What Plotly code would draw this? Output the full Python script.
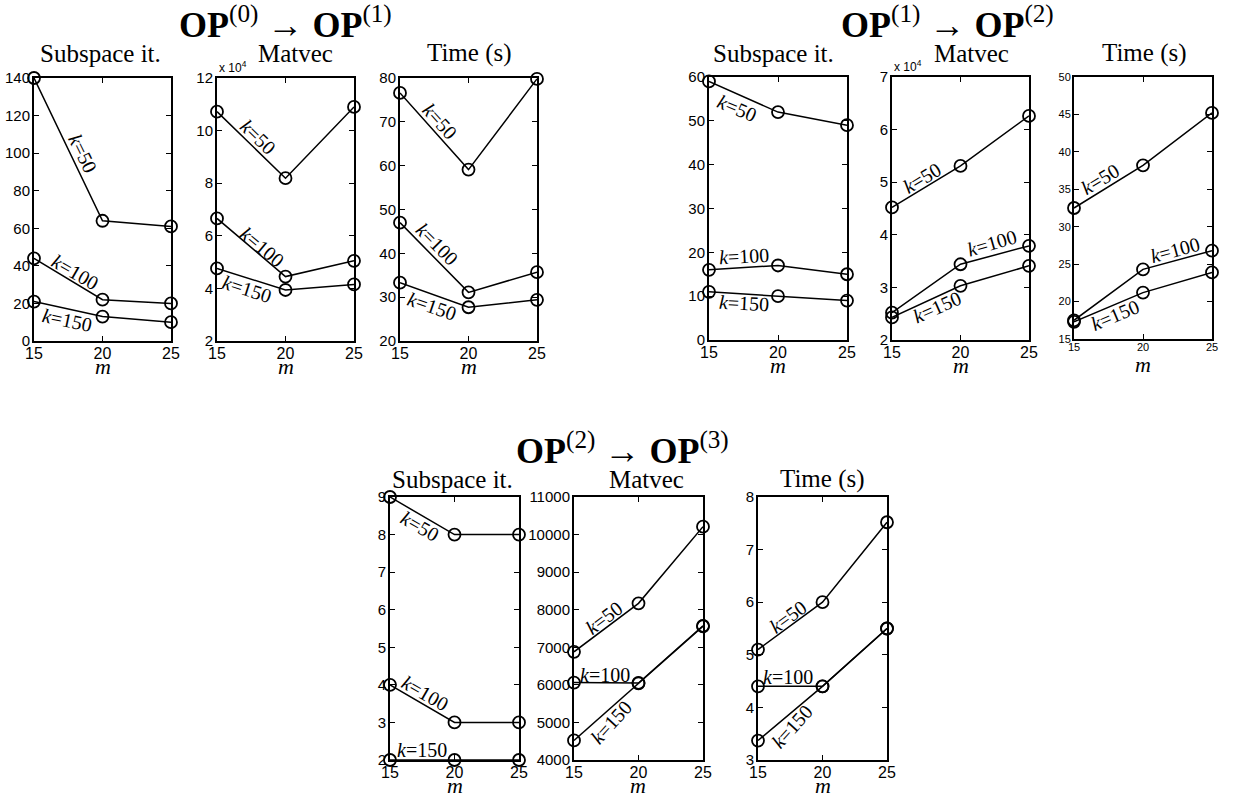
import plotly.graph_objects as go

# ---------------- data ----------------
M = [15, 20, 25]
K_NAMES = ["k=50", "k=100", "k=150"]

# OP(0) -> OP(1)
g1_subspace_k50 = [140, 64, 61]
g1_subspace_k100 = [44, 22, 20]
g1_subspace_k150 = [21, 13, 10]
g1_matvec_k50 = [107200, 81900, 109000]
g1_matvec_k100 = [66600, 44500, 50500]
g1_matvec_k150 = [47600, 39400, 41500]
g1_time_k50 = [76.6, 59.1, 79.8]
g1_time_k100 = [47.0, 31.1, 35.7]
g1_time_k150 = [33.3, 27.7, 29.4]

# OP(1) -> OP(2)
g2_subspace_k50 = [59, 52, 49]
g2_subspace_k100 = [16, 17, 15]
g2_subspace_k150 = [11, 10, 9]
g2_matvec_k50 = [45200, 53100, 62600]
g2_matvec_k100 = [25200, 34400, 37900]
g2_matvec_k150 = [24300, 30300, 34100]
g2_time_k50 = [32.5, 38.2, 45.2]
g2_time_k100 = [17.5, 24.3, 26.8]
g2_time_k150 = [17.3, 21.2, 23.9]

# OP(2) -> OP(3)
g3_subspace_k50 = [9, 8, 8]
g3_subspace_k100 = [4, 3, 3]
g3_subspace_k150 = [2, 2, 2]
g3_matvec_k50 = [6880, 8170, 10210]
g3_matvec_k100 = [6060, 6050, 7570]
g3_matvec_k150 = [4520, 6040, 7560]
g3_time_k50 = [5.1, 6.0, 7.52]
g3_time_k100 = [4.4, 4.4, 5.5]
g3_time_k150 = [3.37, 4.4, 5.5]

GROUP_TITLES = ["<b>OP</b><sup>(0)</sup> \u2192 <b>OP</b><sup>(1)</sup>",
                "<b>OP</b><sup>(1)</sup> \u2192 <b>OP</b><sup>(2)</sup>",
                "<b>OP</b><sup>(2)</sup> \u2192 <b>OP</b><sup>(3)</sup>"]
PANEL_TITLES = ["Subspace it.", "Matvec", "Time (s)"]
X_TICKS = [15, 20, 25]

# ---------------- layout helpers ----------------
W, H = 1242, 803
def fx(p): return p / W
def fy(p): return 1 - p / H

SERIF = "Liberation Serif, Times New Roman, serif"
SANS = "Liberation Sans, Arial, sans-serif"

def label(txt):
    k, rest = txt.split("=")
    return "<i>" + k + "</i>=" + rest

panels = [
    # group 1
    dict(g=0, t=0, xd=(34, 171), yd=(78, 341), yr=(0, 140), step=20, scale=1,
         series=[g1_subspace_k50, g1_subspace_k100, g1_subspace_k150],
         labels=[(18.55, 100, 64), (18.0, 36.5, 30), (17.4, 11.0, 12)], tpos=(100, 53)),
    dict(g=0, t=1, xd=(217, 354), yd=(78, 341), yr=(20000, 120000), step=20000, scale=1e4,
         series=[g1_matvec_k50, g1_matvec_k100, g1_matvec_k150],
         labels=[(18.0, 97600, 44), (18.3, 55700, 40), (17.2, 39800, 18)], tpos=(295, 53)),
    dict(g=0, t=2, xd=(400, 537), yd=(78, 341), yr=(20, 80), step=10, scale=1,
         series=[g1_time_k50, g1_time_k100, g1_time_k150],
         labels=[(17.9, 70.2, 48), (17.7, 42.1, 45), (17.3, 28.0, 19)], tpos=(469, 53)),
    # group 2
    dict(g=1, t=0, xd=(709, 847), yd=(77, 340), yr=(0, 60), step=10, scale=1,
         series=[g2_subspace_k50, g2_subspace_k100, g2_subspace_k150],
         labels=[(17.0, 52.9, 23), (17.5, 19.2, -3), (17.5, 8.4, 3)], tpos=(773, 53)),
    dict(g=1, t=1, xd=(892, 1029), yd=(77, 340), yr=(20000, 70000), step=10000, scale=1e4,
         series=[g2_matvec_k50, g2_matvec_k100, g2_matvec_k150],
         labels=[(17.2, 50800, -31), (22.3, 38400, -16), (18.3, 26300, -24)], tpos=(971, 53)),
    dict(g=1, t=2, xd=(1074, 1212), yd=(77, 339), yr=(15, 50), step=5, scale=1,
         series=[g2_time_k50, g2_time_k100, g2_time_k150],
         labels=[(16.9, 36.4, -31), (22.3, 26.9, -15), (18.0, 18.2, -23)], tpos=(1144, 53), small=True),
    # group 3
    dict(g=2, t=0, xd=(390, 519), yd=(497, 760), yr=(2, 9), step=1, scale=1,
         series=[g3_subspace_k50, g3_subspace_k100, g3_subspace_k150],
         labels=[(17.3, 8.23, 30), (17.7, 3.78, 30), (17.5, 2.27, 0)], tpos=(452, 479)),
    dict(g=2, t=1, xd=(574, 703), yd=(497, 760), yr=(4000, 11000), step=1000, scale=1,
         series=[g3_matvec_k50, g3_matvec_k100, g3_matvec_k150],
         labels=[(17.3, 7780, -37), (17.4, 6262, 0), (17.9, 5010, -48)], tpos=(646, 479)),
    dict(g=2, t=2, xd=(758, 887), yd=(497, 760), yr=(3, 8), step=1, scale=1,
         series=[g3_time_k50, g3_time_k100, g3_time_k150],
         labels=[(17.3, 5.72, -36), (17.3, 4.58, 0), (17.6, 3.63, -48)], tpos=(822, 479)),
]

group_title_pos = [(285, 22), (947, 22), (622, 448)]

fig = go.Figure()
annotations = []
layout = dict(
    width=W, height=H, margin=dict(l=0, r=0, t=0, b=0, pad=0, autoexpand=False),
    paper_bgcolor="white", plot_bgcolor="white", showlegend=False,
)

for i, p in enumerate(panels, start=1):
    xa = "x" if i == 1 else "x%d" % i
    ya = "y" if i == 1 else "y%d" % i
    small = p.get("small", False)
    for s in p["series"]:
        fig.add_trace(go.Scatter(
            x=M, y=s, xaxis=xa, yaxis=ya, mode="lines+markers",
            line=dict(color="black", width=1.5),
            marker=dict(symbol="circle-open", size=12, color="black", line=dict(width=1.8)),
            cliponaxis=False, hoverinfo="skip"))
    lo, hi = p["yr"]
    n = int(round((hi - lo) / p["step"]))
    tv = [lo + j * p["step"] for j in range(n + 1)]
    if p["scale"] != 1:
        tt = ["%g" % (v / p["scale"]) for v in tv]
    else:
        tt = ["%g" % v for v in tv]
    common = dict(showline=True, linecolor="black", linewidth=2, mirror="ticks",
                  ticks="inside", ticklen=5, tickwidth=1, tickcolor="black",
                  showgrid=False, zeroline=False, fixedrange=True, automargin=False)
    layout["xaxis" if i == 1 else "xaxis%d" % i] = dict(
        domain=[fx(p["xd"][0]), fx(p["xd"][1])], range=[15, 25], anchor=ya,
        tickmode="array", tickvals=X_TICKS, ticktext=[str(v) for v in X_TICKS],
        tickfont=dict(family=SANS, size=11 if small else 16, color="black"),
        ticklabelstandoff=-3,
        **common)
    layout["yaxis" if i == 1 else "yaxis%d" % i] = dict(
        domain=[fy(p["yd"][1]), fy(p["yd"][0])], range=[lo, hi], anchor=xa,
        tickmode="array", tickvals=tv, ticktext=tt,
        tickfont=dict(family=SANS, size=11 if small else 15, color="black"),
        ticklabelstandoff=-1,
        **common)
    # series labels
    for name, (lx, ly, ang) in zip(K_NAMES, p["labels"]):
        annotations.append(dict(x=lx, y=ly, xref=xa, yref=ya, text=label(name),
                                showarrow=False, textangle=ang,
                                font=dict(family=SERIF, size=20, color="black"),
                                xanchor="center", yanchor="middle"))
    # panel title
    annotations.append(dict(x=fx(p["tpos"][0]), y=fy(p["tpos"][1]), xref="paper", yref="paper",
                            text=PANEL_TITLES[p["t"]], showarrow=False,
                            font=dict(family=SERIF, size=25, color="black"),
                            xanchor="center", yanchor="middle"))
    # x axis title
    xc = (p["xd"][0] + p["xd"][1]) / 2
    annotations.append(dict(x=fx(xc), y=fy(p["yd"][1] + 25), xref="paper", yref="paper",
                            text="<i>m</i>", showarrow=False,
                            font=dict(family=SERIF, size=22, color="black"),
                            xanchor="center", yanchor="middle"))
    # exponent label
    if p["scale"] != 1:
        annotations.append(dict(x=fx(p["xd"][0]), y=fy(p["yd"][0] - 1), xref="paper", yref="paper",
                                text="x 10<sup>4</sup>", showarrow=False,
                                font=dict(family=SANS, size=12, color="black"),
                                xanchor="left", yanchor="bottom"))

for txt, (gx, gy) in zip(GROUP_TITLES, group_title_pos):
    annotations.append(dict(x=fx(gx), y=fy(gy), xref="paper", yref="paper", text=txt,
                            showarrow=False, font=dict(family=SERIF, size=36, color="black"),
                            xanchor="center", yanchor="middle"))

layout["annotations"] = annotations
fig.update_layout(**layout)
fig.write_html("out.html", config={"displayModeBar": False, "staticPlot": True},
               post_script="document.body.style.margin='0';document.body.style.overflow='hidden';")
